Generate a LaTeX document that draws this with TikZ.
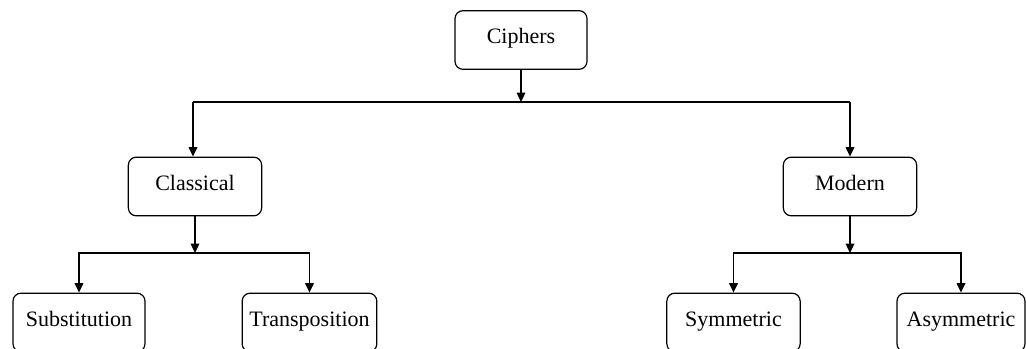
\documentclass[tikz,border=0pt]{standalone}
\usepackage{fontspec}
\setmainfont{Liberation Serif}
\usetikzlibrary{arrows.meta}
\begin{document}
\begin{tikzpicture}[x=0.75pt, y=-0.75pt,
  box/.style={rectangle, draw, rounded corners=6pt, minimum width=#1, minimum height=44pt, text height=1.55ex, text depth=0.3ex, font=\fontsize{16.5}{19}\selectfont, line width=0.9pt},
  arrow/.style={-{Triangle[length=7pt,width=6.5pt]}, line width=0.9pt},
  link/.style={line width=0.9pt}
]
  \clip (0,0) rectangle (1026,349);
  \useasboundingbox (0,0) rectangle (1026,349);

  \node[box=99pt]    (ciphers)   at (521,40)    {Ciphers};
  \node[box=100pt]   (classical) at (195,186.5) {Classical};
  \node[box=100pt]   (modern)    at (850,186.5) {Modern};
  \node[box=99pt]    (subst)     at (79,322.5)  {Substitution};
  \node[box=101pt]   (transp)    at (309.5,322.5) {Transposition};
  \node[box=100pt]   (sym)       at (733.5,322.5) {Symmetric};
  \node[box=96pt]    (asym)      at (961,322.5) {Asymmetric};

  \coordinate (top bus)   at (521,102);
  \coordinate (left bus)  at (195,253);
  \coordinate (right bus) at (850,253);

  \draw[arrow] (ciphers) -- (top bus);
  \draw[link] (top bus) -- (193,102);
  \draw[arrow] (193,102) -- (classical.north -| 193,0);
  \draw[link] (top bus) -- (850,102);
  \draw[arrow] (850,102) -- (modern);

  \draw[arrow] (classical) -- (left bus);
  \draw[arrow] (left bus) -| (subst);
  \draw[arrow] (left bus) -| (transp);

  \draw[arrow] (modern) -- (right bus);
  \draw[arrow] (right bus) -| (sym);
  \draw[arrow] (right bus) -| (asym);
\end{tikzpicture}
\end{document}
